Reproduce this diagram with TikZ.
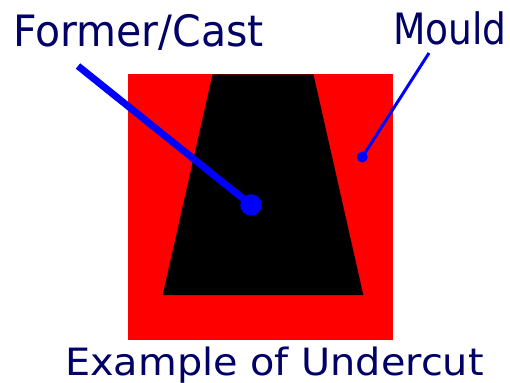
\documentclass[tikz,border=0pt]{standalone}
\usepackage{fontspec}
\setmainfont{DejaVu Sans}
\definecolor{navy}{RGB}{0,0,102}
\definecolor{pblue}{RGB}{0,0,255}
\definecolor{pred}{RGB}{255,0,0}
\begin{document}
\begin{tikzpicture}[x=1pt,y=-1pt,
  label/.style={text=navy,inner sep=0pt,anchor=base west},
  pointer/.style={draw=pblue,line cap=butt}]
\useasboundingbox (0,0) rectangle (510,382);
\fill[pred] (128,74.5) rectangle (392.5,340);
\fill[black] (212.5,74.5) -- (313.5,74.5) -- (363.3,295) -- (162.7,295) -- cycle;
\node[label,font=\fontsize{43.2}{48}\selectfont] (former) at (13,46.7) {\scalebox{0.95}[1]{Former/Cast}};
\node[label,font=\fontsize{43.2}{48}\selectfont] (mould) at (393,45) {\scalebox{0.87}[1]{Mould}};
\node[label,font=\fontsize{37.6}{42}\selectfont] (example) at (65,375.7) {\scalebox{1.058}[1]{Example of Undercut}};
\coordinate (fs) at (78,66);
\coordinate (fd) at (251,205);
\coordinate (ms) at (429,53);
\coordinate (md) at (362.3,157);
\draw[pointer,line width=7] (fs) -- (fd);
\fill[pblue] (fd) circle (10.7);
\draw[pointer,line width=3] (ms) -- (md);
\fill[pblue] (md) circle (5.5);
\end{tikzpicture}
\end{document}
